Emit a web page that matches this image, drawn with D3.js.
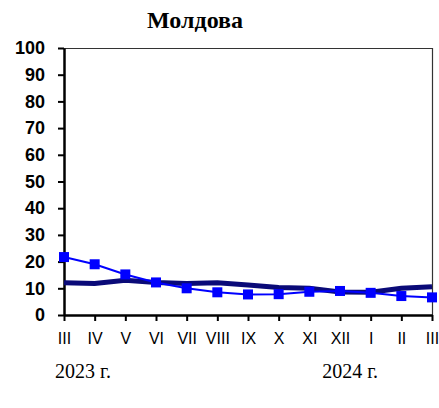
<!DOCTYPE html>
<html>
<head>
<meta charset="utf-8">
<script src="https://cdnjs.cloudflare.com/ajax/libs/d3/7.8.5/d3.min.js"></script>
<style>
  body { margin: 0; background: #fff; }
</style>
</head>
<body>
<svg id="chart"></svg>
<script>
const months = ['III', 'IV', 'V', 'VI', 'VII', 'VIII', 'IX', 'X', 'XI', 'XII', 'I', 'II', 'III'];
const blueSeries = [21.7, 19.0, 15.2, 12.2, 10.0, 8.5, 7.7, 7.8, 8.7, 9.0, 8.3, 7.1, 6.6];
const navySeries = [12.1, 11.8, 13.0, 12.2, 11.8, 12.1, 11.2, 10.3, 10.0, 8.6, 8.5, 10.0, 10.6];
const yTicks = [0, 10, 20, 30, 40, 50, 60, 70, 80, 90, 100];
const years = [{ label: '2023 г.', at: 0.62 }, { label: '2024 г.', at: 9.33 }];

const W = 439, H = 408;
const margin = { top: 48, right: 7, bottom: 93, left: 64 };
const width = W - margin.left - margin.right;
const height = H - margin.top - margin.bottom;

const svg = d3.select('#chart').attr('width', W).attr('height', H);
const g = svg.append('g').attr('transform', `translate(${margin.left},${margin.top})`);

const x = d3.scaleLinear().domain([0, months.length - 1]).range([0, width]);
const y = d3.scaleLinear().domain([0, 100]).range([height, 0]);

// frame top and right
g.append('path')
  .attr('d', `M0,0.5H${width + 0.5}V${height}`)
  .attr('fill', 'none')
  .attr('stroke', '#333')
  .attr('stroke-width', 1.2);

// y axis
const yAxis = g.append('g')
  .call(d3.axisLeft(y).tickValues(yTicks).tickSize(6).tickSizeOuter(0).tickPadding(13));
yAxis.select('.domain').attr('stroke-width', 2.5);
yAxis.selectAll('.tick line').attr('stroke-width', 2);
yAxis.selectAll('text')
  .attr('font-family', 'Liberation Sans, Arial, sans-serif')
  .attr('font-weight', 'bold')
  .attr('font-size', 18)
  .attr('fill', '#000');

// x axis
const xAxis = g.append('g')
  .attr('transform', `translate(0,${height})`)
  .call(d3.axisBottom(x).tickValues(d3.range(months.length)).tickFormat(i => months[i])
    .tickSize(6).tickSizeOuter(0).tickPadding(12));
xAxis.select('.domain').attr('stroke-width', 2.5);
xAxis.selectAll('.tick line').attr('stroke-width', 2);
xAxis.selectAll('text')
  .attr('font-family', 'Liberation Sans, Arial, sans-serif')
  .attr('font-size', 16)
  .attr('fill', '#000');

const line = d3.line().x((d, i) => x(i)).y(d => y(d));

g.append('path')
  .datum(navySeries)
  .attr('fill', 'none')
  .attr('stroke', '#0a0a78')
  .attr('stroke-width', 5)
  .attr('d', line);

g.append('path')
  .datum(blueSeries)
  .attr('fill', 'none')
  .attr('stroke', '#0000ff')
  .attr('stroke-width', 2)
  .attr('d', line);

g.selectAll('.marker')
  .data(blueSeries)
  .enter().append('rect')
  .attr('class', 'marker')
  .attr('x', (d, i) => x(i) - 5)
  .attr('y', d => y(d) - 5)
  .attr('width', 10)
  .attr('height', 10)
  .attr('fill', '#0000ff');

// title
svg.append('text')
  .attr('x', 195)
  .attr('y', 28)
  .attr('text-anchor', 'middle')
  .attr('font-family', 'Liberation Serif, Times New Roman, serif')
  .attr('font-weight', 'bold')
  .attr('font-size', 24)
  .text('Молдова');

// year labels
svg.selectAll('.year')
  .data(years)
  .enter().append('text')
  .attr('class', 'year')
  .attr('x', d => margin.left + x(d.at))
  .attr('y', 378)
  .attr('text-anchor', 'middle')
  .attr('font-family', 'Liberation Serif, Times New Roman, serif')
  .attr('font-size', 20)
  .text(d => d.label);
</script>
</body>
</html>
